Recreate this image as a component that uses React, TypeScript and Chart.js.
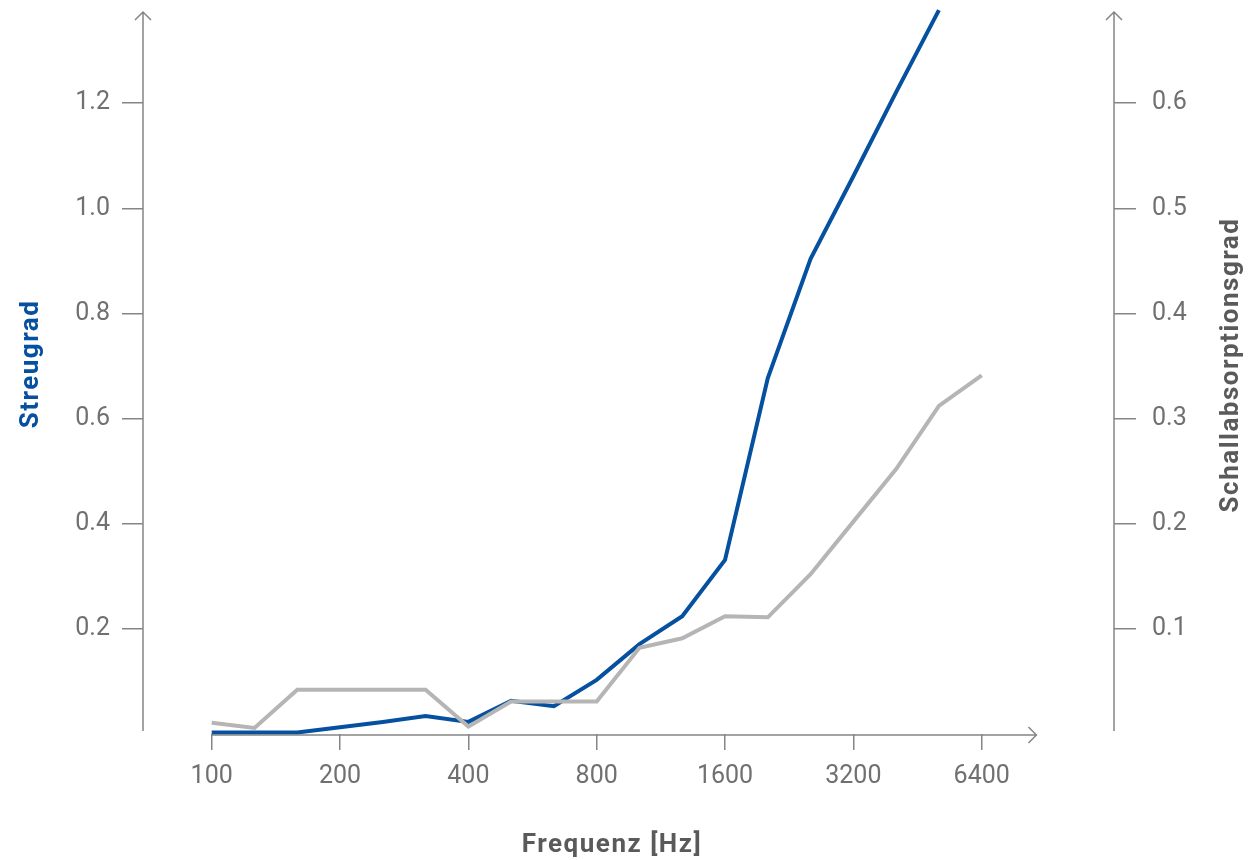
import React, { useEffect, useRef } from "react";
import { Chart, registerables } from "chart.js";

Chart.register(...registerables);

// Third-octave band centre frequencies (Hz)
const bands = [100, 125, 160, 200, 250, 315, 400, 500, 630, 800, 1000, 1250, 1600, 2000, 2500, 3150, 4000, 5000, 6300];
// Octave tick labels shown on the x axis, at band index 0, 3, 6, ...
const xTickIndex = [0, 3, 6, 9, 12, 15, 18];
const xTickLabels = ["100", "200", "400", "800", "1600", "3200", "6400"];

// Streugrad (left axis)
const streugrad = [0.003, 0.003, 0.003, 0.013, 0.023, 0.034, 0.023, 0.063, 0.053, 0.103, 0.171, 0.224, 0.331, 0.677, 0.904, 1.061, 1.221, 1.377, null];
// Schallabsorptionsgrad (right axis)
const absorption = [0.0108, 0.0057, 0.042, 0.042, 0.042, 0.042, 0.007, 0.031, 0.031, 0.031, 0.082, 0.091, 0.112, 0.111, 0.152, 0.202, 0.252, 0.312, 0.341];

const leftTicks = [0.2, 0.4, 0.6, 0.8, 1.0, 1.2];
const rightTicks = [0.1, 0.2, 0.3, 0.4, 0.5, 0.6];

const BLUE = "#0650a0";
const GREY_LINE = "#b5b5b5";
const AXIS = "#858585";
const TICK_TEXT = "#707070";
const TITLE_GREY = "#5a5a5a";
const W = 1259;
const H = 860;

const tickFont = { family: "Roboto", size: 25, weight: "normal" as const };

const axesPlugin = {
  id: "customAxes",
  afterDraw(chart: any) {
    const ctx = chart.ctx as CanvasRenderingContext2D;
    const area = chart.chartArea;
    const xs = chart.scales.x;
    ctx.save();
    ctx.strokeStyle = AXIS;
    ctx.lineWidth = 1.5;
    ctx.lineCap = "butt";
    const a = 8;
    // left axis
    const lx = area.left;
    ctx.beginPath();
    ctx.moveTo(lx, area.top);
    ctx.lineTo(lx, area.bottom - 3);
    ctx.moveTo(lx - a, area.top + a);
    ctx.lineTo(lx, area.top);
    ctx.lineTo(lx + a, area.top + a);
    // right axis
    const rx = area.right;
    ctx.moveTo(rx, area.top);
    ctx.lineTo(rx, area.bottom - 3);
    ctx.moveTo(rx - a, area.top + a);
    ctx.lineTo(rx, area.top);
    ctx.lineTo(rx + a, area.top + a);
    // x axis
    const y0 = area.bottom + 1;
    const x0 = xs.getPixelForValue(0);
    const xe = xs.getPixelForValue(19.28);
    ctx.moveTo(x0, y0);
    ctx.lineTo(xe, y0);
    ctx.moveTo(xe - a, y0 - a);
    ctx.lineTo(xe, y0);
    ctx.lineTo(xe - a, y0 + a);
    ctx.stroke();

    // titles
    ctx.font = "bold 26px Roboto";
    (ctx as any).letterSpacing = "1.5px";
    ctx.textAlign = "center";
    ctx.textBaseline = "middle";
    ctx.fillStyle = BLUE;
    ctx.save();
    ctx.translate(31, 364);
    ctx.rotate(-Math.PI / 2);
    ctx.fillText("Streugrad", 0, 0);
    ctx.restore();
    ctx.fillStyle = TITLE_GREY;
    ctx.save();
    ctx.translate(1231, 365);
    ctx.rotate(-Math.PI / 2);
    ctx.fillText("Schallabsorptionsgrad", 0, 0);
    ctx.restore();
    ctx.fillText("Frequenz [Hz]", 612, 845);
    ctx.restore();
  },
};

const noPad = (s: any) => {
  s.paddingTop = 0;
  s.paddingBottom = 0;
};

export default function App() {
  const ref = useRef<HTMLCanvasElement>(null);
  useEffect(() => {
    if (!ref.current) return;
    const chart = new Chart(ref.current, {
      type: "line",
      data: {
        datasets: [
          {
            label: "Schallabsorptionsgrad",
            data: absorption.map((v, i) => ({ x: i, y: v })),
            yAxisID: "y1",
            borderColor: GREY_LINE,
            borderWidth: 4,
            pointRadius: 0,
            tension: 0,
            fill: false,
            clip: false as any,
          },
          {
            label: "Streugrad",
            data: streugrad.map((v, i) => ({ x: i, y: v as any })),
            yAxisID: "y",
            borderColor: BLUE,
            borderWidth: 4,
            pointRadius: 0,
            tension: 0,
            fill: false,
            spanGaps: false,
            clip: false as any,
          },
        ],
      },
      options: {
        responsive: false,
        animation: false,
        layout: { padding: { top: 12, left: 0, right: 0, bottom: 0 } },
        plugins: { legend: { display: false }, tooltip: { enabled: false } },
        scales: {
          x: {
            type: "linear",
            min: -1.606,
            max: 21.093,
            afterBuildTicks: (s: any) => {
              s.ticks = xTickIndex.map((v) => ({ value: v }));
            },
            afterFit: (s: any) => {
              s.height = H - 734;
              s.paddingLeft = 0;
              s.paddingRight = 0;
            },
            ticks: {
              autoSkip: false,
              maxRotation: 0,
              padding: 12,
              color: TICK_TEXT,
              font: tickFont,
              callback: (v: any) => {
                const k = xTickIndex.indexOf(Number(v));
                return k >= 0 ? xTickLabels[k] : "";
              },
            },
            grid: { drawOnChartArea: false, drawTicks: true, tickLength: 16, color: AXIS, lineWidth: 1.5 },
            border: { display: false },
          },
          y: {
            type: "linear",
            position: "left",
            min: 0,
            max: 1.3734,
            afterBuildTicks: (s: any) => {
              s.ticks = leftTicks.map((v) => ({ value: v }));
            },
            afterFit: (s: any) => {
              s.width = 143;
              noPad(s);
            },
            ticks: {
              padding: 12,
              color: TICK_TEXT,
              font: tickFont,
              callback: (v: any) => Number(v).toFixed(1),
            },
            grid: { drawOnChartArea: false, drawTicks: true, tickLength: 21, color: AXIS, lineWidth: 1.5 },
            border: { display: false },
          },
          y1: {
            type: "linear",
            position: "right",
            min: 0,
            max: 0.6867,
            afterBuildTicks: (s: any) => {
              s.ticks = rightTicks.map((v) => ({ value: v }));
            },
            afterFit: (s: any) => {
              s.width = W - 1114;
              noPad(s);
            },
            ticks: {
              padding: 16,
              color: TICK_TEXT,
              font: tickFont,
              callback: (v: any) => Number(v).toFixed(1),
            },
            grid: { drawOnChartArea: false, drawTicks: true, tickLength: 22, color: AXIS, lineWidth: 1.5 },
            border: { display: false },
          },
        },
      },
      plugins: [axesPlugin],
    });
    return () => chart.destroy();
  }, []);

  return (
    <div style={{ position: "fixed", left: 0, top: 0, width: W, height: H, background: "#fff" }}>
      <canvas ref={ref} width={W} height={H} style={{ width: W, height: H, display: "block" }} />
    </div>
  );
}
